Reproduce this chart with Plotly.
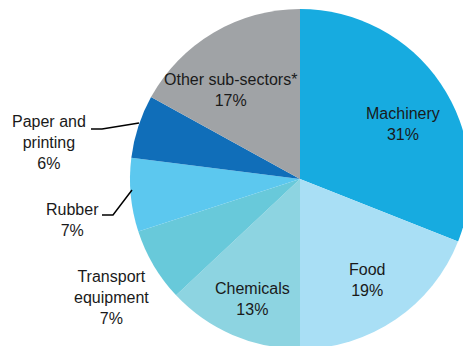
import plotly.graph_objects as go

# Data
sectors = ["Machinery", "Food", "Chemicals", "Transport equipment", "Rubber",
           "Paper and printing", "Other sub-sectors*"]
shares = [31, 19, 13, 7, 7, 6, 17]
label_text = ["Machinery", "Food", "Chemicals", "Transport<br>equipment", "Rubber",
              "Paper and<br>printing", "Other sub-sectors*"]

# Styles
colors = ["#17ABE0", "#A9DFF5", "#8DD4E1", "#68C9DA", "#5CC8EF", "#106EB9", "#A0A3A6"]
W, H = 480, 360  # figure slightly larger than the window; the pie is cut at the edges
label_px = [(403, 124), (367, 280), (252, 299), (111, 297), (72, 220), (49, 143), (230, 90)]

# pie: center (300,179), radius 170 in page pixels
cx, cy, r = 300, 179, 170
fig = go.Figure(go.Pie(
    labels=sectors,
    values=shares,
    sort=False,
    direction="clockwise",
    rotation=0,
    marker=dict(colors=colors, line=dict(width=0)),
    textinfo="none",
    hoverinfo="label+percent",
    showlegend=False,
    domain=dict(x=[(cx - r) / W, (cx + r) / W], y=[(H - (cy + r)) / H, (H - (cy - r)) / H]),
))

for txt, val, (px, py) in zip(label_text, shares, label_px):
    fig.add_annotation(
        x=px / W, y=1 - py / H, xref="paper", yref="paper",
        text=f"{txt}<br>{val}%", showarrow=False,
        xanchor="center", yanchor="middle", align="center",
        font=dict(family="Liberation Sans, Arial, sans-serif", size=16, color="#1a1a1a"),
    )


def pth(points):
    return "M " + " L ".join(f"{x / W:.5f},{1 - y / H:.5f}" for x, y in points)


leaders = [[(91, 129), (102, 129), (139, 123)],
           [(102, 215), (113, 215), (132, 190)]]
for pts in leaders:
    fig.add_shape(type="path", path=pth(pts), xref="paper", yref="paper",
                  line=dict(color="#000000", width=1.5))

fig.update_layout(
    width=W, height=H,
    margin=dict(l=0, r=0, t=0, b=0),
    paper_bgcolor="white", plot_bgcolor="white",
)

fig.write_html(
    "out.html",
    config={"displayModeBar": False},
    post_script=("document.documentElement.style.overflow='hidden';"
                 "document.body.style.overflow='hidden';"
                 "document.body.style.margin='0';"),
)
